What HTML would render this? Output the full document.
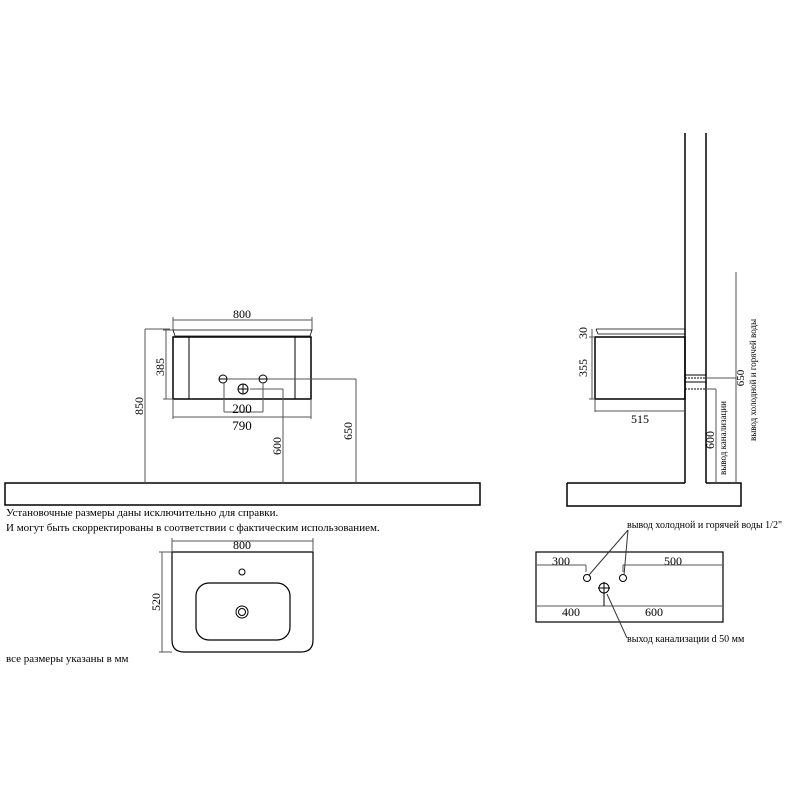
<!DOCTYPE html>
<html><head><meta charset="utf-8"><style>
html,body{margin:0;padding:0;background:#fff}
svg{display:block}
text{font-family:"Liberation Serif",serif;fill:#000}
</style></head><body>
<svg width="800" height="800" viewBox="0 0 800 800" xmlns="http://www.w3.org/2000/svg">
<g fill="none" stroke="#000" stroke-width="1">
<rect x="5" y="483" width="475" height="22" stroke-width="1.5"/>
<line x1="173" y1="320" x2="312" y2="320" stroke="#555"/>
<line x1="173" y1="317" x2="173" y2="330" stroke="#555"/>
<line x1="312" y1="317" x2="312" y2="330" stroke="#555"/>
<path d="M173 330 L312 330 L310 336 L175 336 Z" stroke-width="0.8"/>
<rect x="173" y="337" width="138" height="62" stroke-width="1.5"/>
<line x1="189" y1="337" x2="189" y2="399"/>
<line x1="295" y1="337" x2="295" y2="399"/>
<circle cx="223" cy="379" r="4"/>
<circle cx="263" cy="379" r="4"/>
<circle cx="243" cy="389" r="5"/>
<line x1="238" y1="389" x2="248" y2="389"/>
<line x1="243" y1="384" x2="243" y2="394"/>
<line x1="219" y1="379" x2="227" y2="379"/>
<line x1="259" y1="379" x2="267" y2="379"/>
<line x1="166" y1="330" x2="166" y2="399" stroke="#555"/>
<line x1="163" y1="330" x2="173" y2="330" stroke="#555"/>
<line x1="163" y1="399" x2="173" y2="399" stroke="#555"/>
<line x1="145" y1="329" x2="145" y2="483" stroke="#555"/>
<line x1="145" y1="329" x2="170" y2="329" stroke="#555"/>
<line x1="173" y1="417" x2="311" y2="417" stroke="#555"/>
<line x1="173" y1="399" x2="173" y2="419" stroke="#555"/>
<line x1="311" y1="399" x2="311" y2="419" stroke="#555"/>
<line x1="224" y1="383" x2="224" y2="412" stroke="#555"/>
<line x1="263" y1="383" x2="263" y2="412" stroke="#555"/>
<line x1="224" y1="412" x2="263" y2="412" stroke="#555"/>
<line x1="250" y1="389" x2="283" y2="389" stroke="#555"/>
<line x1="283" y1="389" x2="283" y2="483" stroke="#555"/>
<line x1="227" y1="379" x2="259" y2="379" stroke="#555"/>
<line x1="267" y1="379" x2="356" y2="379" stroke="#555"/>
<line x1="356" y1="379" x2="356" y2="483" stroke="#555"/>

<line x1="685" y1="133" x2="685" y2="483" stroke-width="1.5"/>
<line x1="706" y1="133" x2="706" y2="483" stroke-width="1.5"/>
<path d="M567 483 L685 483 M706 483 L741 483 L741 506 L567 506 L567 483" stroke-width="1.5"/>
<path d="M596 329 L685 329 M596 329 L598 334 L685 334" stroke-width="0.8"/>
<rect x="595" y="337" width="90" height="62" stroke-width="1.5"/>
<line x1="685" y1="375" x2="706" y2="375"/>
<line x1="685" y1="378" x2="706" y2="378" stroke-dasharray="2,1"/>
<line x1="685" y1="382" x2="706" y2="382"/>
<line x1="685" y1="389" x2="706" y2="389" stroke-dasharray="2,1"/>
<line x1="592" y1="329" x2="592" y2="399" stroke="#555"/>
<line x1="589" y1="337" x2="595" y2="337" stroke="#555"/>
<line x1="589" y1="399" x2="595" y2="399" stroke="#555"/>
<line x1="595" y1="399" x2="595" y2="412" stroke="#555"/>
<line x1="595" y1="411" x2="685" y2="411" stroke="#555"/>
<line x1="706" y1="378" x2="736" y2="378" stroke="#555"/>
<line x1="736" y1="272" x2="736" y2="483" stroke="#555"/>
<line x1="706" y1="389" x2="716" y2="389" stroke="#555"/>
<line x1="716" y1="389" x2="716" y2="483" stroke="#555"/>

<path d="M172 552 L313 552 L313 640 Q313 652 301 652 L184 652 Q172 652 172 640 Z" stroke-width="1.2"/>
<rect x="196" y="583" width="94" height="57" rx="13" stroke-width="1.2"/>
<circle cx="242" cy="572" r="3"/>
<circle cx="242" cy="612" r="6"/>
<circle cx="242" cy="612" r="3.5"/>
<line x1="172" y1="541" x2="313" y2="541" stroke="#555"/>
<line x1="172" y1="538" x2="172" y2="552" stroke="#555"/>
<line x1="313" y1="538" x2="313" y2="552" stroke="#555"/>
<line x1="162" y1="552" x2="162" y2="652" stroke="#555"/>
<line x1="159" y1="552" x2="172" y2="552" stroke="#555"/>
<line x1="159" y1="652" x2="172" y2="652" stroke="#555"/>

<rect x="536" y="552" width="187" height="70" stroke-width="1.2"/>
<line x1="537" y1="565" x2="586" y2="565" stroke="#555"/>
<line x1="586" y1="565" x2="586" y2="572" stroke="#555"/>
<line x1="623" y1="565" x2="722" y2="565" stroke="#555"/>
<line x1="623" y1="565" x2="623" y2="572" stroke="#555"/>
<line x1="537" y1="606" x2="722" y2="606" stroke="#555"/>
<circle cx="587" cy="578" r="3.5"/>
<circle cx="623" cy="578" r="3.5"/>
<circle cx="604" cy="588" r="5"/>
<line x1="598" y1="588" x2="610" y2="588"/>
<line x1="604" y1="582" x2="604" y2="606"/>
<line x1="589" y1="575" x2="628" y2="530" stroke="#333"/>
<line x1="624" y1="575" x2="628" y2="530" stroke="#333"/>
<line x1="607" y1="594" x2="627" y2="638" stroke="#333"/>
</g>
<g font-size="12">
<text x="242" y="318" text-anchor="middle">800</text>
<text x="242" y="413" text-anchor="middle" font-size="13">200</text>
<text x="242" y="430" text-anchor="middle" font-size="13">790</text>
<text transform="translate(164 367) rotate(-90)" text-anchor="middle">385</text>
<text transform="translate(143 406) rotate(-90)" text-anchor="middle">850</text>
<text transform="translate(281 446) rotate(-90)" text-anchor="middle">600</text>
<text transform="translate(352 431) rotate(-90)" text-anchor="middle">650</text>
<text transform="translate(587 333) rotate(-90)" text-anchor="middle">30</text>
<text transform="translate(587 368) rotate(-90)" text-anchor="middle">355</text>
<text x="640" y="423" text-anchor="middle">515</text>
<text transform="translate(714 440) rotate(-90)" text-anchor="middle">600</text>
<text transform="translate(744 378) rotate(-90)" text-anchor="middle" font-size="11">650</text>
<text transform="translate(726 438) rotate(-90)" text-anchor="middle" font-size="9">вывод канализации</text>
<text transform="translate(756 380) rotate(-90)" text-anchor="middle" font-size="9">вывод холодной и горячей воды</text>
<text x="242" y="549" text-anchor="middle">800</text>
<text transform="translate(160 602) rotate(-90)" text-anchor="middle">520</text>
<text x="561" y="565" text-anchor="middle">300</text>
<text x="673" y="565" text-anchor="middle">500</text>
<text x="571" y="616" text-anchor="middle">400</text>
<text x="654" y="616" text-anchor="middle">600</text>
</g>
<g font-size="11">
<text x="6" y="516">Установочные размеры даны исключительно для справки.</text>
<text x="6" y="531">И могут быть скорректированы в соответствии с фактическим использованием.</text>
<text x="6" y="662">все размеры указаны в мм</text>
</g>
<g font-size="10">
<text x="627" y="528">вывод холодной и горячей воды 1/2"</text>
<text x="627" y="642">выход канализации d 50 мм</text>
</g>
</svg>
</body></html>
